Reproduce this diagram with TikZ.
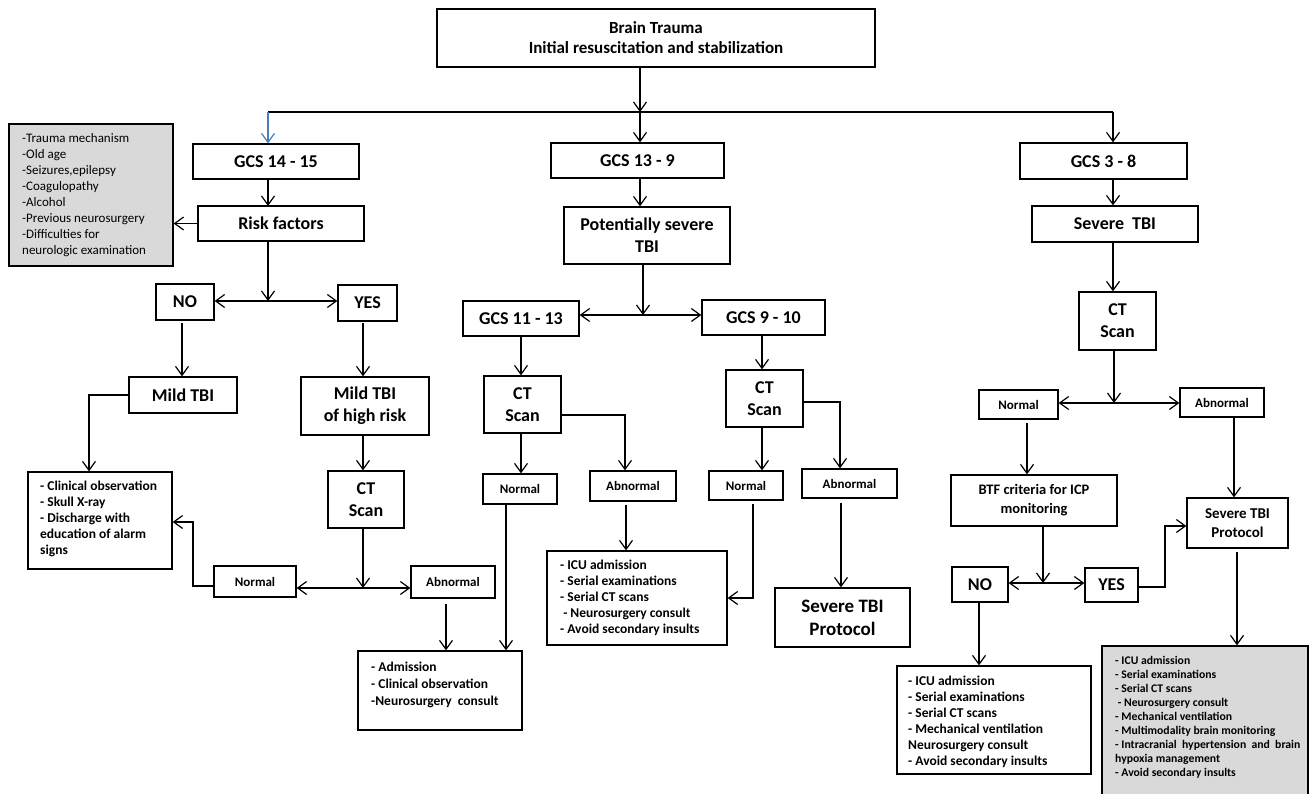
\documentclass[tikz,border=0pt]{standalone}
\usepackage{fontspec}
\setmainfont{Carlito}
\usetikzlibrary{arrows.meta}
\definecolor{boxgray}{HTML}{D9D9D9}
\definecolor{arrblue}{HTML}{4A7EBB}
\tikzset{
  box/.style={draw, line width=1.3pt, inner sep=0pt, align=center, font=\bfseries\fontsize{18}{22}\selectfont},
  smallbox/.style={box, font=\bfseries\fontsize{13}{16}\selectfont},
  listtext/.style={anchor=north west, inner sep=0pt, align=left, font=\bfseries\fontsize{13.5}{16}\selectfont},
  conn/.style={line width=1.2pt, -{Straight Barb[length=9pt,width=13pt,line width=1.2pt]}},
  both/.style={line width=1.2pt, {Straight Barb[length=9pt,width=13pt,line width=1.2pt]}-{Straight Barb[length=9pt,width=13pt,line width=1.2pt]}},
  plain/.style={line width=1.2pt}
}
\begin{document}
\begin{tikzpicture}[x=1pt,y=-1pt]
\useasboundingbox (0,0) rectangle (1311,794);
\clip (0,0) rectangle (1311,794);
\fill[white] (0,0) rectangle (1311,794);

% ---------- nodes ----------
\node[box, minimum width=438pt, minimum height=58pt, font=\bfseries\fontsize{17}{20}\selectfont] (top) at (656,38) {Brain Trauma\\Initial resuscitation and stabilization};

\node[box, minimum width=166pt, minimum height=35pt] (gcs1) at (276,161.5) {GCS 14 - 15};
\node[box, minimum width=166pt, minimum height=35pt] (risk) at (281,223.5) {Risk factors};
\node[draw, fill=boxgray, line width=1.3pt, minimum width=164pt, minimum height=142pt, inner sep=0pt] (gl) at (91,195) {};
\node[anchor=north west, inner sep=0pt, align=left, font=\fontsize{13}{16}\selectfont] (gltext) at (22,133) {-Trauma mechanism\\-Old age\\-Seizures,epilepsy\\-Coagulopathy\\-Alcohol\\-Previous neurosurgery\\-Difficulties for\\neurologic examination};
\node[box, minimum width=58pt, minimum height=36pt] (no1) at (185,302) {NO};
\node[box, minimum width=59pt, minimum height=36pt] (yes1) at (367.5,303) {YES};
\node[box, minimum width=108pt, minimum height=36pt] (mild) at (183,395) {Mild TBI};
\node[box, minimum width=128pt, minimum height=58pt] (mildh) at (365,406) {Mild TBI\\of high risk};
\node[box, minimum width=76pt, minimum height=57pt] (ct1) at (366,499.5) {CT\\Scan};
\node[box, minimum width=144pt, minimum height=97pt] (clin) at (100,520.5) {};
\node[listtext] (clintext) at (40,481) {- Clinical observation\\- Skull X-ray\\- Discharge with\\education of alarm\\signs};
\node[smallbox, minimum width=82pt, minimum height=31pt] (nor1) at (255,581.5) {Normal};
\node[smallbox, minimum width=84pt, minimum height=32pt] (abn1) at (453,582) {Abnormal};
\node[box, minimum width=164pt, minimum height=79pt] (adm) at (440,690.5) {};
\node[listtext, font=\bfseries\fontsize{13.5}{17}\selectfont] (admtext) at (371,662) {- Admission\\- Clinical observation\\-Neurosurgery\ \ consult};

\node[box, minimum width=173pt, minimum height=35pt] (gcs2) at (637.5,160.5) {GCS 13 - 9};
\node[box, minimum width=166pt, minimum height=57pt] (pot) at (647,235.5) {Potentially severe\\TBI};
\node[box, minimum width=116pt, minimum height=35pt] (gcs11) at (521,318.5) {GCS 11 - 13};
\node[box, minimum width=123pt, minimum height=35pt] (gcs9) at (763.5,317.5) {GCS 9 - 10};
\node[box, minimum width=77pt, minimum height=57pt] (ct2) at (522.5,404.5) {CT\\Scan};
\node[smallbox, minimum width=74pt, minimum height=30pt] (nor2) at (520,489) {Normal};
\node[smallbox, minimum width=86pt, minimum height=30pt] (abn2) at (633,486) {Abnormal};
\node[box, minimum width=77pt, minimum height=57pt] (ct3) at (764.5,398.5) {CT\\Scan};
\node[smallbox, minimum width=74pt, minimum height=29pt] (nor3) at (746,485.5) {Normal};
\node[smallbox, minimum width=95pt, minimum height=29pt] (abn3) at (849.5,483.5) {Abnormal};
\node[box, minimum width=180pt, minimum height=94pt] (icu2) at (637,598) {};
\node[listtext] (icu2text) at (560,560) {- ICU admission\\- Serial examinations\\- Serial CT scans\\\ - Neurosurgery consult\\- Avoid secondary insults};
\node[box, minimum width=135pt, minimum height=59pt, font=\bfseries\fontsize{19}{23}\selectfont] (stp2) at (842.5,617.5) {Severe TBI\\Protocol};

\node[box, minimum width=167pt, minimum height=36pt] (gcs3) at (1103.5,161) {GCS 3 - 8};
\node[box, minimum width=166pt, minimum height=36pt] (sev3) at (1115,224) {Severe\ \ TBI};
\node[box, minimum width=77pt, minimum height=58pt] (ct4) at (1117.5,321) {CT\\Scan};
\node[smallbox, minimum width=79pt, minimum height=29pt] (nor4) at (1018.5,404.5) {Normal};
\node[smallbox, minimum width=84pt, minimum height=29pt] (abn4) at (1222,402.5) {Abnormal};
\node[box, minimum width=166pt, minimum height=51pt, font=\bfseries\fontsize{14.5}{19}\selectfont] (btf) at (1034,500.5) {BTF criteria for ICP\\monitoring};
\node[box, minimum width=101pt, minimum height=50pt, font=\bfseries\fontsize{15}{19}\selectfont] (stp4) at (1237.5,523) {Severe TBI\\Protocol};
\node[box, minimum width=56pt, minimum height=35pt] (no4) at (980,584.5) {NO};
\node[box, minimum width=53pt, minimum height=34pt] (yes4) at (1111.5,585) {YES};
\node[box, minimum width=194pt, minimum height=108pt] (icu4) at (994,720) {};
\node[listtext] (icu4text) at (908,676) {- ICU admission\\- Serial examinations\\- Serial CT scans\\- Mechanical ventilation\\Neurosurgery consult\\- Avoid secondary insults};
\node[draw, fill=boxgray, line width=1.3pt, minimum width=206pt, minimum height=170pt, inner sep=0pt] (gr4) at (1205,731) {};
\node[listtext, font=\bfseries\fontsize{11.7}{14}\selectfont] (gr4text) at (1115,656.5) {- ICU admission\\- Serial examinations\\- Serial CT scans\\\ - Neurosurgery consult\\- Mechanical ventilation\\- Multimodality brain monitoring\\- Intracranial\ \ hypertension\ \ and\ \ brain\\hypoxia management\\- Avoid secondary insults};

% ---------- junctions ----------
\coordinate (j0) at (640,112);
\coordinate (jl) at (268,112);
\coordinate (jr) at (1113,112);

% ---------- connectors ----------
\draw[conn] (top.south -| j0) -- (j0);
\draw[plain] (jl) -- (jr);
\draw[conn, arrblue] (jl) -- (jl |- gcs1.north);
\draw[conn] (j0) -- (j0 |- gcs2.north);
\draw[conn] (jr) -- (jr |- gcs3.north);

% left column
\draw[conn] (268,179) -- (268,206);
\draw[conn] (risk.west) -- (gl.east |- risk.west);
\coordinate (j1) at (268,301);
\draw[conn] (268,241) -- (j1);
\draw[both] (no1.east |- j1) -- (yes1.west |- j1);
\draw[conn] (182,323) -- (182,0 |- mild.north);
\draw[conn] (363,323) -- (363,0 |- mildh.north);
\draw[conn] (363,0 |- mildh.south) -- (363,0 |- ct1.north);
\draw[conn] (mild.west) -- (89,395) -- (89,0 |- clin.north);
\coordinate (j2) at (363,588);
\draw[conn] (363,0 |- ct1.south) -- (j2);
\draw[both] (nor1.east |- j2) -- (abn1.west |- j2);
\draw[conn] (nor1.west |- 0,586) -- (193,586) -- (193,522) -- (clin.east |- 0,522);
\draw[conn] (446,604) -- (446,0 |- adm.north);

% middle column
\draw[conn] (640,0 |- gcs2.south) -- (640,0 |- pot.north);
\coordinate (j3) at (643,315);
\draw[conn] (643,0 |- pot.south) -- (j3);
\draw[both] (gcs11.east |- j3) -- (gcs9.west |- j3);
\draw[conn] (521,0 |- gcs11.south) -- (521,0 |- ct2.north);
\draw[conn] (521,0 |- ct2.south) -- (521,0 |- nor2.north);
\draw[conn] (ct2.east |- 0,415) -- (625,415) -- (625,0 |- abn2.north);
\draw[conn] (506,0 |- nor2.south) -- (506,0 |- adm.north);
\draw[conn] (626,505) -- (626,0 |- icu2.north);
\draw[conn] (762,0 |- gcs9.south) -- (762,0 |- ct3.north);
\draw[conn] (762,0 |- ct3.south) -- (762,0 |- nor3.north);
\draw[conn] (ct3.east |- 0,402) -- (840,402) -- (840,0 |- abn3.north);
\draw[conn] (753,504) -- (753,598) -- (icu2.east |- 0,598);
\draw[conn] (841,503) -- (841,0 |- stp2.north);

% right column
\draw[conn] (1113,0 |- gcs3.south) -- (1113,0 |- sev3.north);
\draw[conn] (1113,0 |- sev3.south) -- (1113,0 |- ct4.north);
\coordinate (j4) at (1114,403);
\draw[conn] (1114,0 |- ct4.south) -- (j4);
\draw[both] (nor4.east |- j4) -- (abn4.west |- j4);
\draw[conn] (1027,423) -- (1027,0 |- btf.north);
\draw[conn] (1234,0 |- abn4.south) -- (1234,0 |- stp4.north);
\coordinate (j5) at (1043,583);
\draw[conn] (1043,0 |- btf.south) -- (j5);
\draw[both] (no4.east |- j5) -- (yes4.west |- j5);
\draw[conn] (yes4.east |- 0,587) -- (1165,587) -- (1165,526) -- (stp4.west |- 0,526);
\draw[conn] (979,0 |- no4.south) -- (979,0 |- icu4.north);
\draw[conn] (1237,552) -- (1237,0 |- gr4.north);
\end{tikzpicture}
\end{document}
